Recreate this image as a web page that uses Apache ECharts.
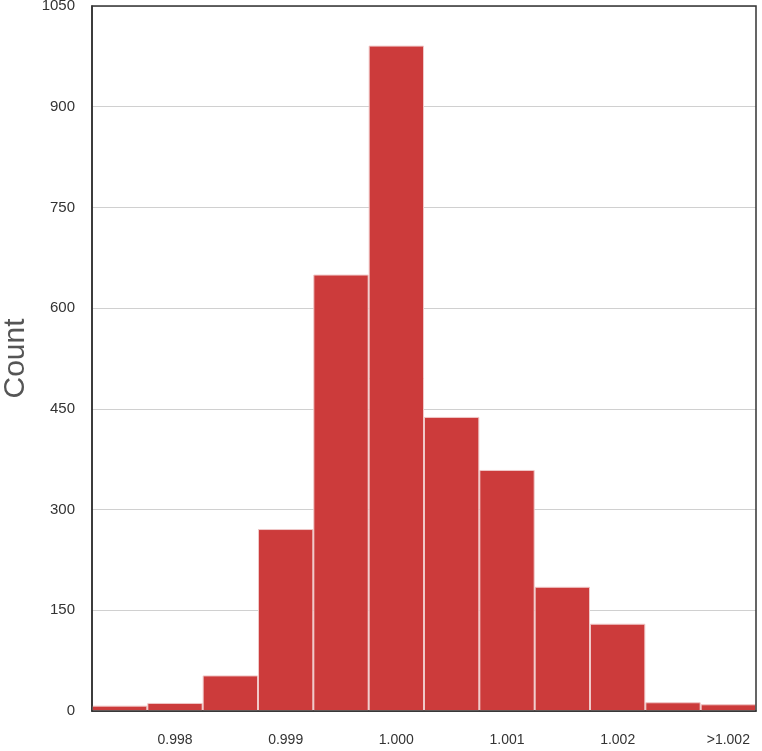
<!DOCTYPE html>
<html>
<head>
<meta charset="utf-8">
<script src="https://cdn.jsdelivr.net/npm/echarts@6/dist/echarts.min.js"></script>
<style>
  html, body { margin: 0; padding: 0; background: #fff; }
  #chart { width: 762px; height: 751px; }
</style>
</head>
<body>
<div id="chart"></div>
<script>
// histogram bins (every other one is labelled on the axis)
const bins = ['0.9975', '0.998', '0.9985', '0.999', '0.9995', '1.000',
  '1.0005', '1.001', '1.0015', '1.002', '1.0025', '>1.002']
const counts = [8, 12, 53, 271, 650, 991, 438, 359, 185, 130, 13, 10]
const yTicks = [0, 150, 300, 450, 600, 750, 900, 1050]

const chart = echarts.init(document.getElementById('chart'))
chart.setOption({
  animation: false,
  grid: {
    left: 92,
    right: 6,
    top: 6,
    bottom: 40,
    containLabel: false,
    outerBoundsMode: 'none',
    show: true,
    borderColor: '#333',
    borderWidth: 1.5,
    z: 10
  },
  xAxis: {
    type: 'category',
    data: bins,
    axisTick: { show: false },
    axisLine: { lineStyle: { color: '#222', width: 1.5 } },
    axisLabel: {
      interval: function (i) { return i % 2 === 1 },
      color: '#333',
      fontSize: 14,
      fontFamily: 'Helvetica, Arial, sans-serif',
      margin: 22
    }
  },
  yAxis: {
    type: 'value',
    min: yTicks[0],
    max: yTicks[yTicks.length - 1],
    interval: 150,
    name: 'Count',
    nameLocation: 'middle',
    nameGap: 54,
    nameTextStyle: {
      fontSize: 30,
      color: '#555',
      fontFamily: 'Helvetica, Arial, sans-serif'
    },
    axisLine: { show: true, lineStyle: { color: '#222', width: 1.5 } },
    axisTick: { show: false },
    axisLabel: {
      color: '#333',
      fontSize: 15,
      margin: 17,
      formatter: function (v) { return String(v) },
      fontFamily: 'Helvetica, Arial, sans-serif'
    },
    splitLine: { lineStyle: { color: '#d0d0d0', width: 1.2 } }
  },
  series: [{
    type: 'bar',
    data: counts,
    barCategoryGap: '0%',
    itemStyle: {
      color: '#cc3b3b',
      borderColor: '#f0c8c8',
      borderWidth: 1
    }
  }]
})
</script>
</body>
</html>
